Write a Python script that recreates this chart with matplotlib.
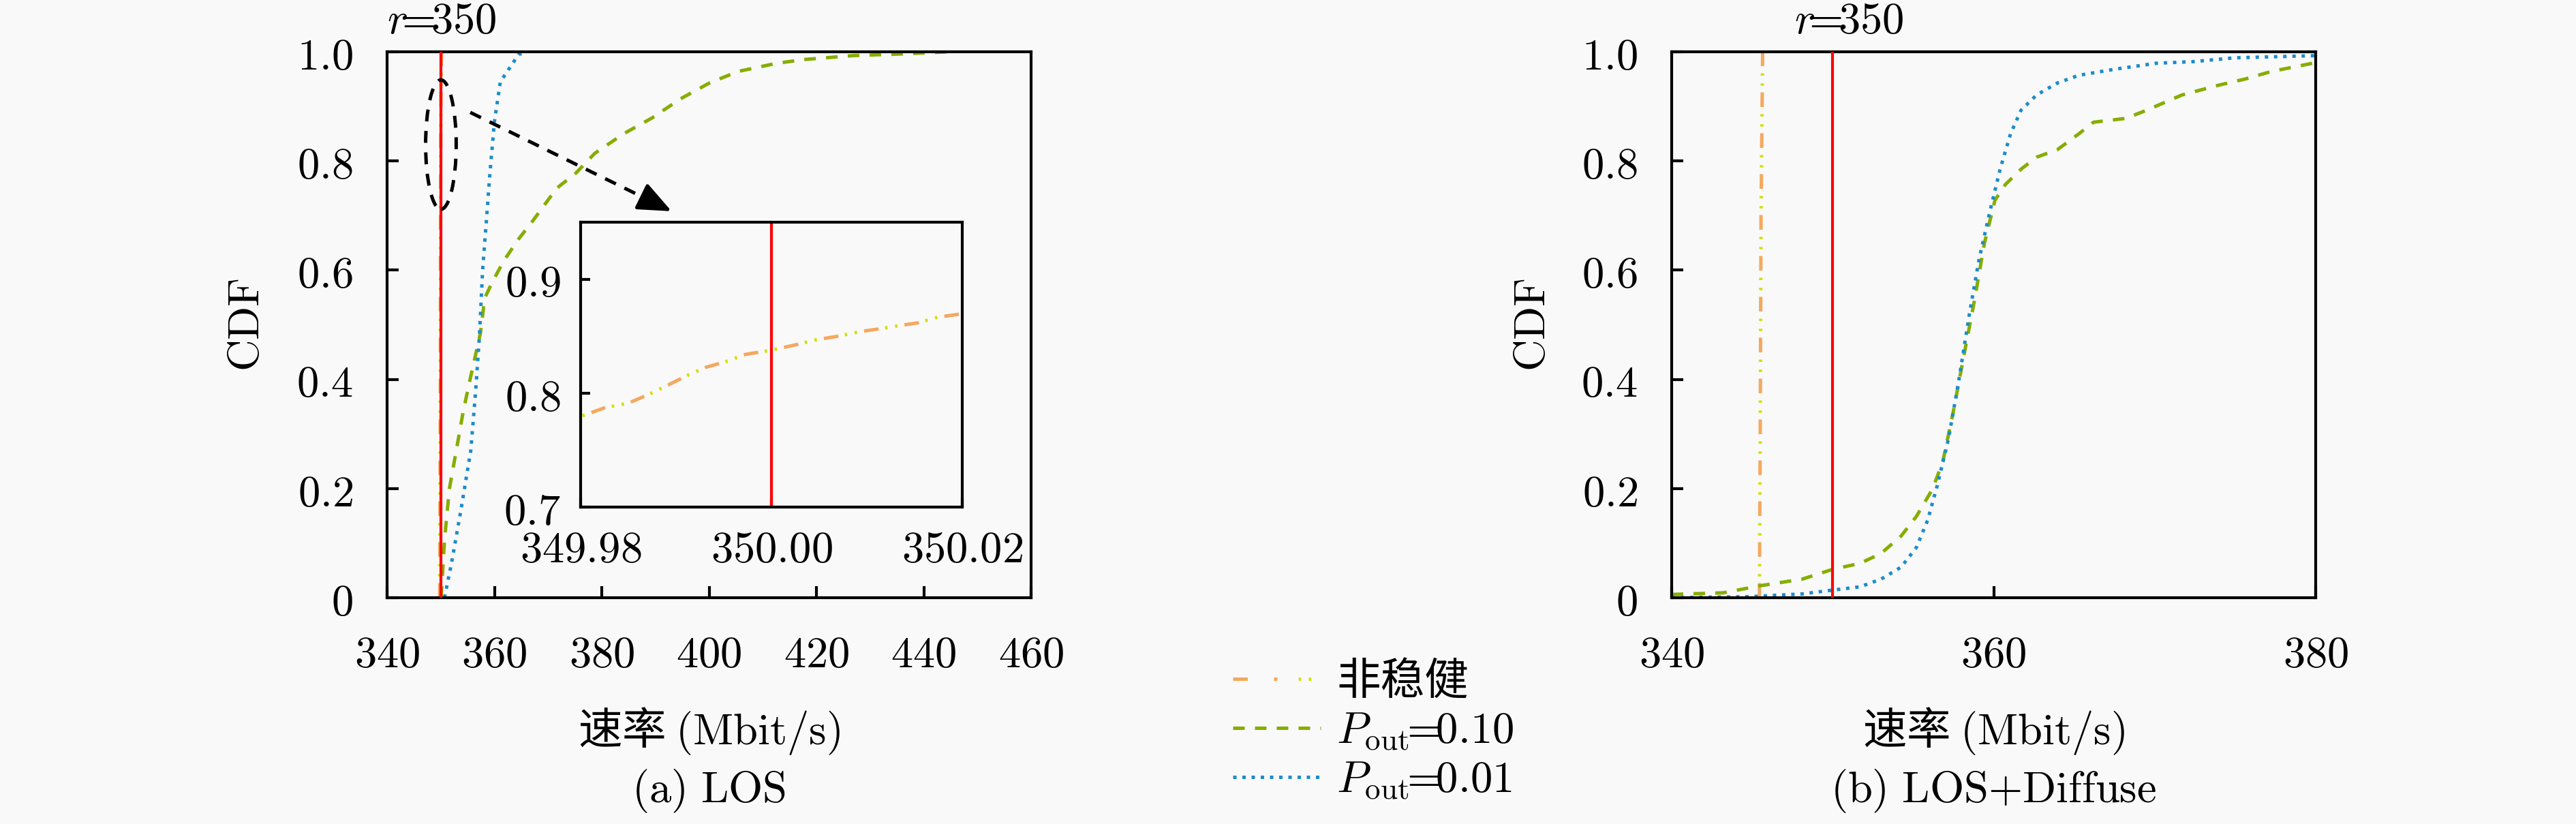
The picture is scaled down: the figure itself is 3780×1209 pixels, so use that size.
# -*- coding: utf-8 -*-

import numpy as np
import matplotlib
matplotlib.use('Agg')
import matplotlib.pyplot as plt
from matplotlib.patches import Ellipse
from matplotlib.legend_handler import HandlerTuple

plt.rcParams['font.family'] = ['Noto Sans CJK SC', 'DejaVu Sans']
plt.rcParams['mathtext.fontset'] = 'cm'
plt.rcParams['font.size'] = 15.5
plt.rcParams['axes.unicode_minus'] = False

# 速率门限
r_th = 350

# (a) LOS
los_nr_x = [349.80, 349.90, 349.95, 349.9797, 349.9826, 349.985, 349.9871, 349.9889, 349.9913,
            349.9931, 349.9952, 349.9973, 350.0, 350.0027, 350.0045, 350.0072, 350.0093,
            350.0114, 350.0132, 350.0153, 350.0174, 350.0203, 350.05, 350.10, 350.20]
los_nr_y = [0.0, 0.35, 0.68, 0.7786, 0.7874, 0.7912, 0.7987, 0.806, 0.816,
            0.8226, 0.8276, 0.834, 0.8377, 0.8427, 0.8465, 0.8503, 0.854,
            0.8565, 0.859, 0.8616, 0.8666, 0.870, 0.93, 0.98, 1.0]
los_p10_x = [350.06, 350.7, 351.6, 352.9, 354.2, 355.6, 357.4, 358.2, 359.6, 361.8, 364.5, 366.9,
             371.6, 375.2, 378.7, 384.1, 389.4, 394.7, 400.1, 405.4, 412.6, 417.9, 426.8, 435.7, 444.6]
los_p10_y = [0.0, 0.106, 0.199, 0.27, 0.342, 0.406, 0.485, 0.549, 0.578, 0.618, 0.657, 0.687,
             0.75, 0.778, 0.814, 0.85, 0.879, 0.914, 0.943, 0.964, 0.979, 0.986, 0.993, 0.996, 1.0]
los_p01_x = [350.7, 352.0, 353.8, 355.6, 356.5, 357.2, 357.8, 358.5, 359.1, 360.0, 361.1, 362.8, 364.5, 366.0]
los_p01_y = [0.0, 0.063, 0.163, 0.27, 0.378, 0.478, 0.60, 0.69, 0.77, 0.872, 0.945, 0.970, 0.995, 1.0]

# (b) LOS+Diffuse
dif_nr_x = [345.45, 345.50, 345.55, 345.65]
dif_nr_y = [0.0, 0.3, 0.7, 1.0]
dif_p10_x = [340.0, 343.2, 345.5, 348.1, 350.0, 351.7, 353.0, 354.25, 355.2, 356.2, 356.84, 357.5,
             358.14, 358.79, 359.43, 360.08, 360.73, 361.7, 362.67, 363.97, 365.3, 366.2, 368.2,
             369.5, 371.7, 374.0, 375.6, 377.25, 379.8]
dif_p10_y = [0.006, 0.009, 0.022, 0.034, 0.052, 0.063, 0.081, 0.113, 0.149, 0.199, 0.249, 0.342,
             0.442, 0.542, 0.650, 0.728, 0.757, 0.785, 0.807, 0.821, 0.85, 0.871, 0.878,
             0.893, 0.921, 0.939, 0.950, 0.964, 0.979]
dif_p01_x = [340.0, 344.9, 348.1, 350.0, 351.7, 353.0, 354.25, 355.2, 355.9, 356.5, 357.2, 357.8,
             358.5, 359.1, 359.76, 360.4, 361.05, 361.7, 362.67, 363.97, 365.3, 367.5, 370.1,
             372.4, 374.98, 380.0]
dif_p01_y = [0.0, 0.002, 0.007, 0.014, 0.02, 0.034, 0.056, 0.092, 0.142, 0.206, 0.292, 0.392,
             0.521, 0.621, 0.707, 0.785, 0.850, 0.893, 0.921, 0.943, 0.957, 0.968, 0.979,
             0.982, 0.989, 0.993]

labels = ['非稳健', r'$P_{\mathrm{out}}\!\!=\!\!0.10$', r'$P_{\mathrm{out}}\!\!=\!\!0.01$']
yticks = [0, 0.2, 0.4, 0.6, 0.8, 1.0]
ytick_labels = ['$0$', '$0.2$', '$0.4$', '$0.6$', '$0.8$', '$1.0$']
xticks_a = [340, 360, 380, 400, 420, 440, 460]
xticks_b = [340, 360, 380]
inset_xticks = [349.98, 350.00, 350.02]
inset_xtick_labels = ['$349.98$', '$350.00$', '$350.02$']
inset_yticks = [0.7, 0.8, 0.9]
inset_ytick_labels = ['$0.7$', '$0.8$', '$0.9$']
r_label = r'$r\!\!=\!\!350$'

bg = '#f9f9f9'
c_orange = '#f5a85e'
c_yellow = '#d2e000'
c_green = '#86ad00'
c_blue = '#1a8ccc'
lw = 1.2
dash_k = (0, (3.5, 2.8))

W, H = 3780, 1209
fig = plt.figure(figsize=(W / 300, H / 300), dpi=300, facecolor=bg)


def px_axes(x0, y0, x1, y1):
    # 以像素坐标(左上为原点)建立坐标轴
    return fig.add_axes([x0 / W, 1 - y1 / H, (x1 - x0) / W, (y1 - y0) / H])


def style(ax, length=4, pad=12):
    ax.set_facecolor(bg)
    for s in ax.spines.values():
        s.set_linewidth(1.0)
    ax.tick_params(direction='in', length=length, width=1.0, pad=pad,
                   top=False, right=False)


def nonrobust(ax, x, y):
    # 非稳健: 橙色短划 + 黄色点
    l1, = ax.plot(x, y, color=c_orange, lw=lw, ls=(0, (4.3, 7.7)))
    l2, = ax.plot(x, y, color=c_yellow, lw=lw, ls=(5.75, (0.7, 2.25, 0.7, 8.35)))
    return (l1, l2)


# ---------- (a) LOS ----------
ax1 = px_axes(568, 76, 1513, 877)
style(ax1)
h_nr = nonrobust(ax1, los_nr_x, los_nr_y)
h_p10, = ax1.plot(los_p10_x, los_p10_y, color=c_green, lw=lw, ls=(0, (3.4, 3)))
h_p01, = ax1.plot(los_p01_x, los_p01_y, color=c_blue, lw=lw, ls=(0, (1, 1.7)))
ax1.axvline(r_th, color='red', lw=1.0, zorder=3)
ax1.set_xlim(340, 460)
ax1.set_ylim(0, 1)
ax1.set_xticks(xticks_a)
ax1.set_xticklabels(['$%d$' % v for v in xticks_a])
ax1.set_yticks(yticks)
ax1.set_yticklabels(ytick_labels)
ax1.set_xlabel(r'速率 $\mathrm{(Mbit/s)}$')
ax1.set_ylabel(r'$\mathrm{CDF}$')
ax1.xaxis.set_label_coords(0.5, -0.197)
ax1.yaxis.set_label_coords(-0.183, 0.5)
ax1.text(0.5, -0.354, r'$\mathrm{(a)\ LOS}$', transform=ax1.transAxes, ha='center', va='center')
ax1.annotate(r_label, xy=(350.2, 1.0), xycoords=('data', 'axes fraction'),
             xytext=(0, 3), textcoords='offset points', ha='center', va='bottom')

# 放大区域标记: 虚线椭圆 + 虚线箭头
ax1.add_patch(Ellipse((350.03, 0.83), 5.7, 0.237, fill=False, ls=dash_k,
                      lw=lw, color='k', zorder=4))
arr_start = (355.5, 0.889)
arr_tip = (393.0, 0.708)
f = 0.12
arr_base = (arr_tip[0] - f * (arr_tip[0] - arr_start[0]), arr_tip[1] - f * (arr_tip[1] - arr_start[1]))
ax1.plot([arr_start[0], arr_base[0]], [arr_start[1], arr_base[1]], color='k', lw=lw, ls=dash_k, zorder=4)
ax1.annotate('', xy=arr_tip, xytext=arr_base,
             arrowprops=dict(arrowstyle='-|>,head_length=0.4,head_width=0.17', color='k', lw=lw,
                             mutation_scale=25, shrinkA=0, shrinkB=0), zorder=4)

# 局部放大
axin = px_axes(852, 326, 1412, 744)
style(axin, length=3.3, pad=7)
nonrobust(axin, los_nr_x, los_nr_y)
axin.axvline(r_th, color='red', lw=1.0)
axin.set_xlim(349.98, 350.02)
axin.set_ylim(0.7, 0.95)
axin.set_xticks(inset_xticks)
axin.set_xticklabels(inset_xtick_labels)
axin.set_yticks(inset_yticks)
axin.set_yticklabels(inset_ytick_labels)

# ---------- (b) LOS+Diffuse ----------
ax2 = px_axes(2453, 76, 3398, 877)
style(ax2)
nonrobust(ax2, dif_nr_x, dif_nr_y)
ax2.plot(dif_p10_x, dif_p10_y, color=c_green, lw=lw, ls=(0, (3.4, 3)))
ax2.plot(dif_p01_x, dif_p01_y, color=c_blue, lw=lw, ls=(0, (1, 1.7)))
ax2.axvline(r_th, color='red', lw=1.0, zorder=3)
ax2.set_xlim(340, 380)
ax2.set_ylim(0, 1)
ax2.set_xticks(xticks_b)
ax2.set_xticklabels(['$%d$' % v for v in xticks_b])
ax2.set_yticks(yticks)
ax2.set_yticklabels(ytick_labels)
ax2.set_xlabel(r'速率 $\mathrm{(Mbit/s)}$')
ax2.set_ylabel(r'$\mathrm{CDF}$')
ax2.xaxis.set_label_coords(0.5, -0.197)
ax2.yaxis.set_label_coords(-0.181, 0.5)
ax2.text(0.5, -0.354, r'$\mathrm{(b)\ LOS{+}Diffuse}$', transform=ax2.transAxes,
         ha='center', va='center')
ax2.annotate(r_label, xy=(351, 1.0), xycoords=('data', 'axes fraction'),
             xytext=(0, 3), textcoords='offset points', ha='center', va='bottom')

# 图例
fig.legend([h_nr, h_p10, h_p01], labels, loc='upper left',
           bbox_to_anchor=(1777 / W, 1 - 935 / H), frameon=False, borderpad=0,
           handlelength=2.0, handletextpad=0.35, labelspacing=0.08,
           handler_map={tuple: HandlerTuple(ndivide=None)})

fig.savefig('out.png', dpi=300, facecolor=bg)
